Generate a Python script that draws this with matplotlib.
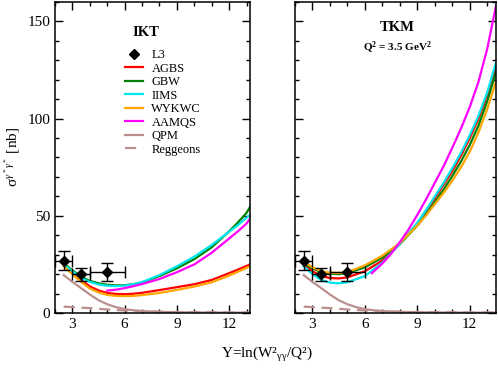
import matplotlib
matplotlib.use("Agg")
import matplotlib.pyplot as plt
from matplotlib.lines import Line2D
from matplotlib.ticker import MultipleLocator

plt.rcParams["font.family"] = ["Liberation Serif", "DejaVu Serif"]
plt.rcParams["mathtext.fontset"] = "custom"
plt.rcParams["mathtext.rm"] = "Liberation Serif"
plt.rcParams["mathtext.it"] = "Liberation Serif:italic"
plt.rcParams["mathtext.bf"] = "Liberation Serif:bold"

# L3 data (same in both panels)
l3_y = [2.5, 3.5, 5.0]
l3_sigma = [27.0, 20.0, 21.0]
l3_yerr = [4.8, 3.4, 4.6]
l3_xerr = [0.5, 0.5, 1.0]

# QPM and Reggeon contributions
qpm_y = [2.5, 3.0, 3.5, 4.0, 4.5, 5.0, 5.5, 6.0, 6.5, 7.0, 8.0, 9.0, 10.0, 12.0, 13.5]
qpm_sigma = [19.5, 16.0, 12.8, 9.5, 6.6, 4.5, 3.0, 2.0, 1.4, 1.0, 0.6, 0.4, 0.3, 0.2, 0.2]
regge_y = [2.5, 3.0, 4.0, 5.0, 6.0, 7.0, 8.0, 10.0, 13.5]
regge_sigma = [3.3, 3.0, 2.5, 1.8, 1.3, 0.9, 0.6, 0.4, 0.2]

# IKT panel
ikt_y = [2.5, 3.0, 3.5, 4.0, 4.5, 5.0, 5.5, 6.0, 6.5, 7.0, 8.0, 9.0, 10.0, 11.0, 12.0, 12.5, 13.0, 13.2]
ikt_agbs = [25.0, 21.0, 17.0, 13.7, 11.6, 10.3, 9.8, 9.7, 9.9, 10.4, 11.8, 13.3, 14.8, 17.0, 20.5, 22.3, 24.2, 25.0]
ikt_gbw = [25.5, 22.0, 18.7, 16.5, 15.3, 14.5, 14.2, 14.3, 14.8, 15.7, 19.0, 23.0, 27.7, 33.8, 42.0, 46.5, 51.5, 54.5]
ikt_iims = [25.0, 21.5, 18.0, 16.0, 14.7, 14.0, 13.8, 14.1, 14.8, 15.9, 19.5, 24.0, 29.0, 35.0, 41.8, 45.2, 49.0, 50.5]
ikt_wykwc = [24.0, 20.0, 16.0, 12.6, 10.6, 9.3, 8.8, 8.7, 8.8, 9.2, 10.3, 11.9, 13.6, 15.8, 19.2, 21.2, 23.2, 24.0]
ikt_aamqs_y = [5.0, 5.5, 6.0, 6.5, 7.0, 8.0, 9.0, 10.0, 11.0, 12.0, 12.5, 13.0, 13.2]
ikt_aamqs = [11.5, 12.0, 12.8, 13.8, 14.9, 17.5, 21.0, 25.0, 31.0, 38.3, 42.0, 46.0, 48.5]

# TKM panel
tkm_y = [2.5, 3.0, 3.5, 4.0, 4.5, 5.0, 6.0, 7.0, 8.0, 9.0, 9.5, 10.0, 10.5, 11.0, 11.5,
         12.0, 12.5, 13.0, 13.5]
tkm_agbs = [25.0, 21.5, 19.0, 18.0, 17.8, 18.3, 21.5, 27.0, 35.5, 46.0, 52.5, 59.0, 66.0,
            73.0, 81.0, 90.0, 100.0, 112.0, 127.0]
tkm_gbw = [25.5, 23.0, 21.0, 20.2, 20.0, 20.5, 23.5, 28.5, 35.5, 45.0, 50.8, 57.0, 63.5,
           70.5, 78.0, 86.5, 96.5, 109.0, 124.0]
tkm_iims = [24.0, 20.0, 17.0, 15.6, 15.3, 15.8, 19.0, 26.0, 35.5, 46.5, 53.0, 60.0, 67.0,
            74.5, 82.5, 91.5, 101.5, 113.5, 129.0]
tkm_wykwc = [26.4, 23.5, 21.5, 20.7, 20.6, 21.0, 24.5, 29.5, 36.0, 45.0, 50.3, 56.0, 61.8,
             68.0, 75.0, 83.0, 93.0, 105.0, 119.0]
tkm_aamqs_y = [6.4, 7.0, 7.5, 8.0, 8.5, 9.0, 9.5, 10.0, 10.5, 11.0, 11.5, 12.0, 12.5, 13.0, 13.5]
tkm_aamqs = [20.5, 25.5, 30.5, 36.5, 43.0, 50.5, 58.5, 67.0, 75.5, 85.0, 95.0, 106.0, 119.0,
             136.0, 158.0]

colors = {
    "AGBS": "#ff0000",
    "GBW": "#008000",
    "IIMS": "#00e5ee",
    "WYKWC": "#ffa500",
    "AAMQS": "#ff00ff",
    "QPM": "#bc8f8f",
}

fig = plt.figure(figsize=(4.98, 3.69), dpi=100)
ax1 = fig.add_axes([55 / 498, 1 - 313 / 369, 195 / 498, 311 / 369])
ax2 = fig.add_axes([295 / 498, 1 - 313 / 369, 201 / 498, 311 / 369])

panels = [
    (ax1, ikt_y, ikt_agbs, ikt_gbw, ikt_iims, ikt_wykwc, ikt_aamqs_y, ikt_aamqs, 13.2),
    (ax2, tkm_y, tkm_agbs, tkm_gbw, tkm_iims, tkm_wykwc, tkm_aamqs_y, tkm_aamqs, 13.5),
]

lw = 1.6
handles = None
for ax, ys, agbs, gbw, iims, wykwc, aamqs_y, aamqs, xmax in panels:
    ax.errorbar(l3_y, l3_sigma, yerr=l3_yerr, xerr=l3_xerr, fmt="D", color="black",
                ms=5.5, capsize=4, elinewidth=1.0, capthick=1.0, zorder=5)
    h = [Line2D([], [], ls="none", marker="D", color="black", ms=5.5)]
    h += ax.plot(ys, agbs, color=colors["AGBS"], lw=lw)
    h += ax.plot(ys, gbw, color=colors["GBW"], lw=lw)
    h += ax.plot(ys, iims, color=colors["IIMS"], lw=lw)
    h += ax.plot(ys, wykwc, color=colors["WYKWC"], lw=lw)
    h += ax.plot(aamqs_y, aamqs, color=colors["AAMQS"], lw=lw)
    h += ax.plot(qpm_y, qpm_sigma, color=colors["QPM"], lw=lw)
    h += ax.plot(regge_y, regge_sigma, color=colors["QPM"], lw=lw, ls=(0, (5, 3)))
    if handles is None:
        handles = h

    ax.set_xlim(2, xmax)
    ax.set_ylim(0, 160)
    ax.xaxis.set_major_locator(MultipleLocator(3))
    ax.xaxis.set_minor_locator(MultipleLocator(1))
    ax.yaxis.set_major_locator(MultipleLocator(50))
    ax.yaxis.set_minor_locator(MultipleLocator(10))
    ax.tick_params(which="both", direction="in", top=True, right=True, labelsize=11, width=1.0)
    ax.tick_params(which="major", length=6)
    ax.tick_params(which="minor", length=3)
    for sp in ax.spines.values():
        sp.set_linewidth(1.1)

ax2.set_yticklabels([])

ax1.text(0.467, 0.903, "IKT", transform=ax1.transAxes, ha="center", va="center",
         fontsize=10.5, fontweight="bold")
ax2.text(0.507, 0.917, "TKM", transform=ax2.transAxes, ha="center", va="center",
         fontsize=10.5, fontweight="bold")
ax2.text(0.507, 0.852, r"$\mathbf{Q^2}$ = 3.5 GeV$^{\mathbf{2}}$", transform=ax2.transAxes,
         ha="center", va="center", fontsize=8, fontweight="bold")

labels = ["L3", "AGBS", "GBW", "IIMS", "WYKWC", "AAMQS", "QPM", "Reggeons"]
ax1.legend(handles, labels, loc="upper left", bbox_to_anchor=(0.36, 0.848), frameon=False,
           fontsize=9, handlelength=1.4, handletextpad=0.7, labelspacing=0.12, borderpad=0,
           borderaxespad=0)

fig.text(12 / 498, 1 - 157 / 369, r"σ$^{\gamma^*\gamma^*}$ [nb]", rotation=90,
         ha="center", va="center", fontsize=11)
fig.text(267 / 498, 1 - 354 / 369, r"Y=ln(W²$_{\mathrm{γγ}}$/Q²)", ha="center",
         va="center", fontsize=11)

fig.savefig("out.png", dpi=100)
